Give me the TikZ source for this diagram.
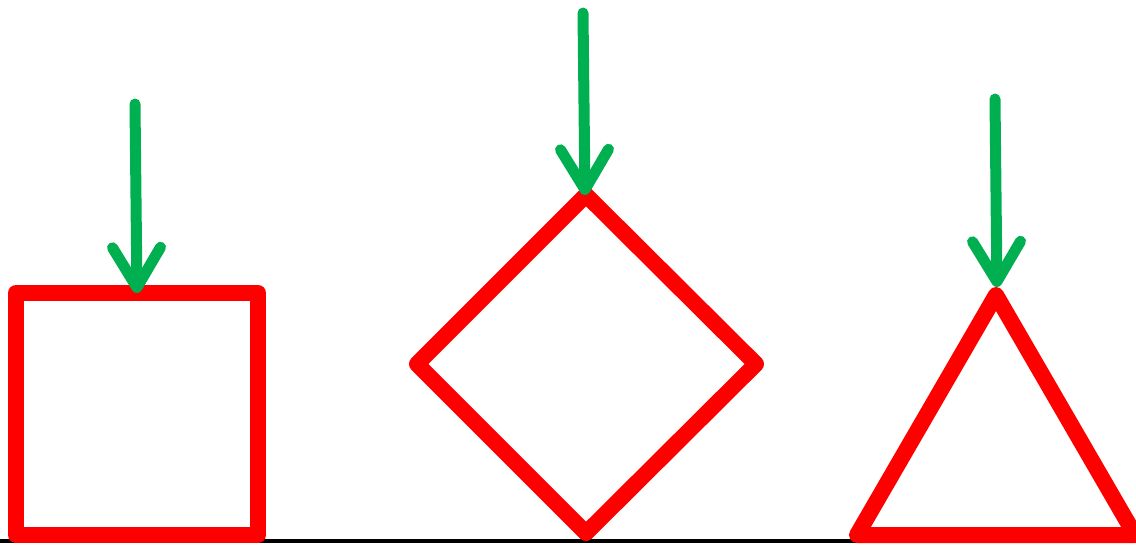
\documentclass[tikz,border=0pt]{standalone}
\usetikzlibrary{arrows.meta}
\definecolor{shapered}{RGB}{255,0,0}
\definecolor{arrowgreen}{RGB}{0,176,80}
\begin{document}
\begin{tikzpicture}[x=1pt,y=-1pt,
  outline/.style={draw=shapered,line width=16pt,line join=round},
  pusharrow/.style={draw=arrowgreen,line width=11pt,line cap=round,
    -{Straight Barb[length=40pt,width=48pt,round]}}]
  \useasboundingbox (0,0) rectangle (1136,544);
  % ground line
  \coordinate (gl) at (0,541);
  \coordinate (gr) at (1136,541);
  \draw[line width=4pt] (gl) -- (gr);
  % square, diamond, triangle
  \draw[outline] (16,293) rectangle (258,535);
  \draw[outline] (586,195) -- (756,364) -- (586,533) -- (417,364) -- cycle;
  \draw[outline] (996,295) -- (1135,535) -- (857,535) -- cycle;
  % tips and tails of the arrows
  \coordinate (sqtop) at (137,293);
  \coordinate (dmtop) at (585,195);
  \coordinate (trtop) at (997,287);
  \coordinate (sqtail) at (135,104);
  \coordinate (dmtail) at (583,13);
  \coordinate (trtail) at (995,99);
  \draw[pusharrow] (sqtail) -- (sqtop);
  \draw[pusharrow] (dmtail) -- (dmtop);
  \draw[pusharrow] (trtail) -- (trtop);
\end{tikzpicture}
\end{document}
